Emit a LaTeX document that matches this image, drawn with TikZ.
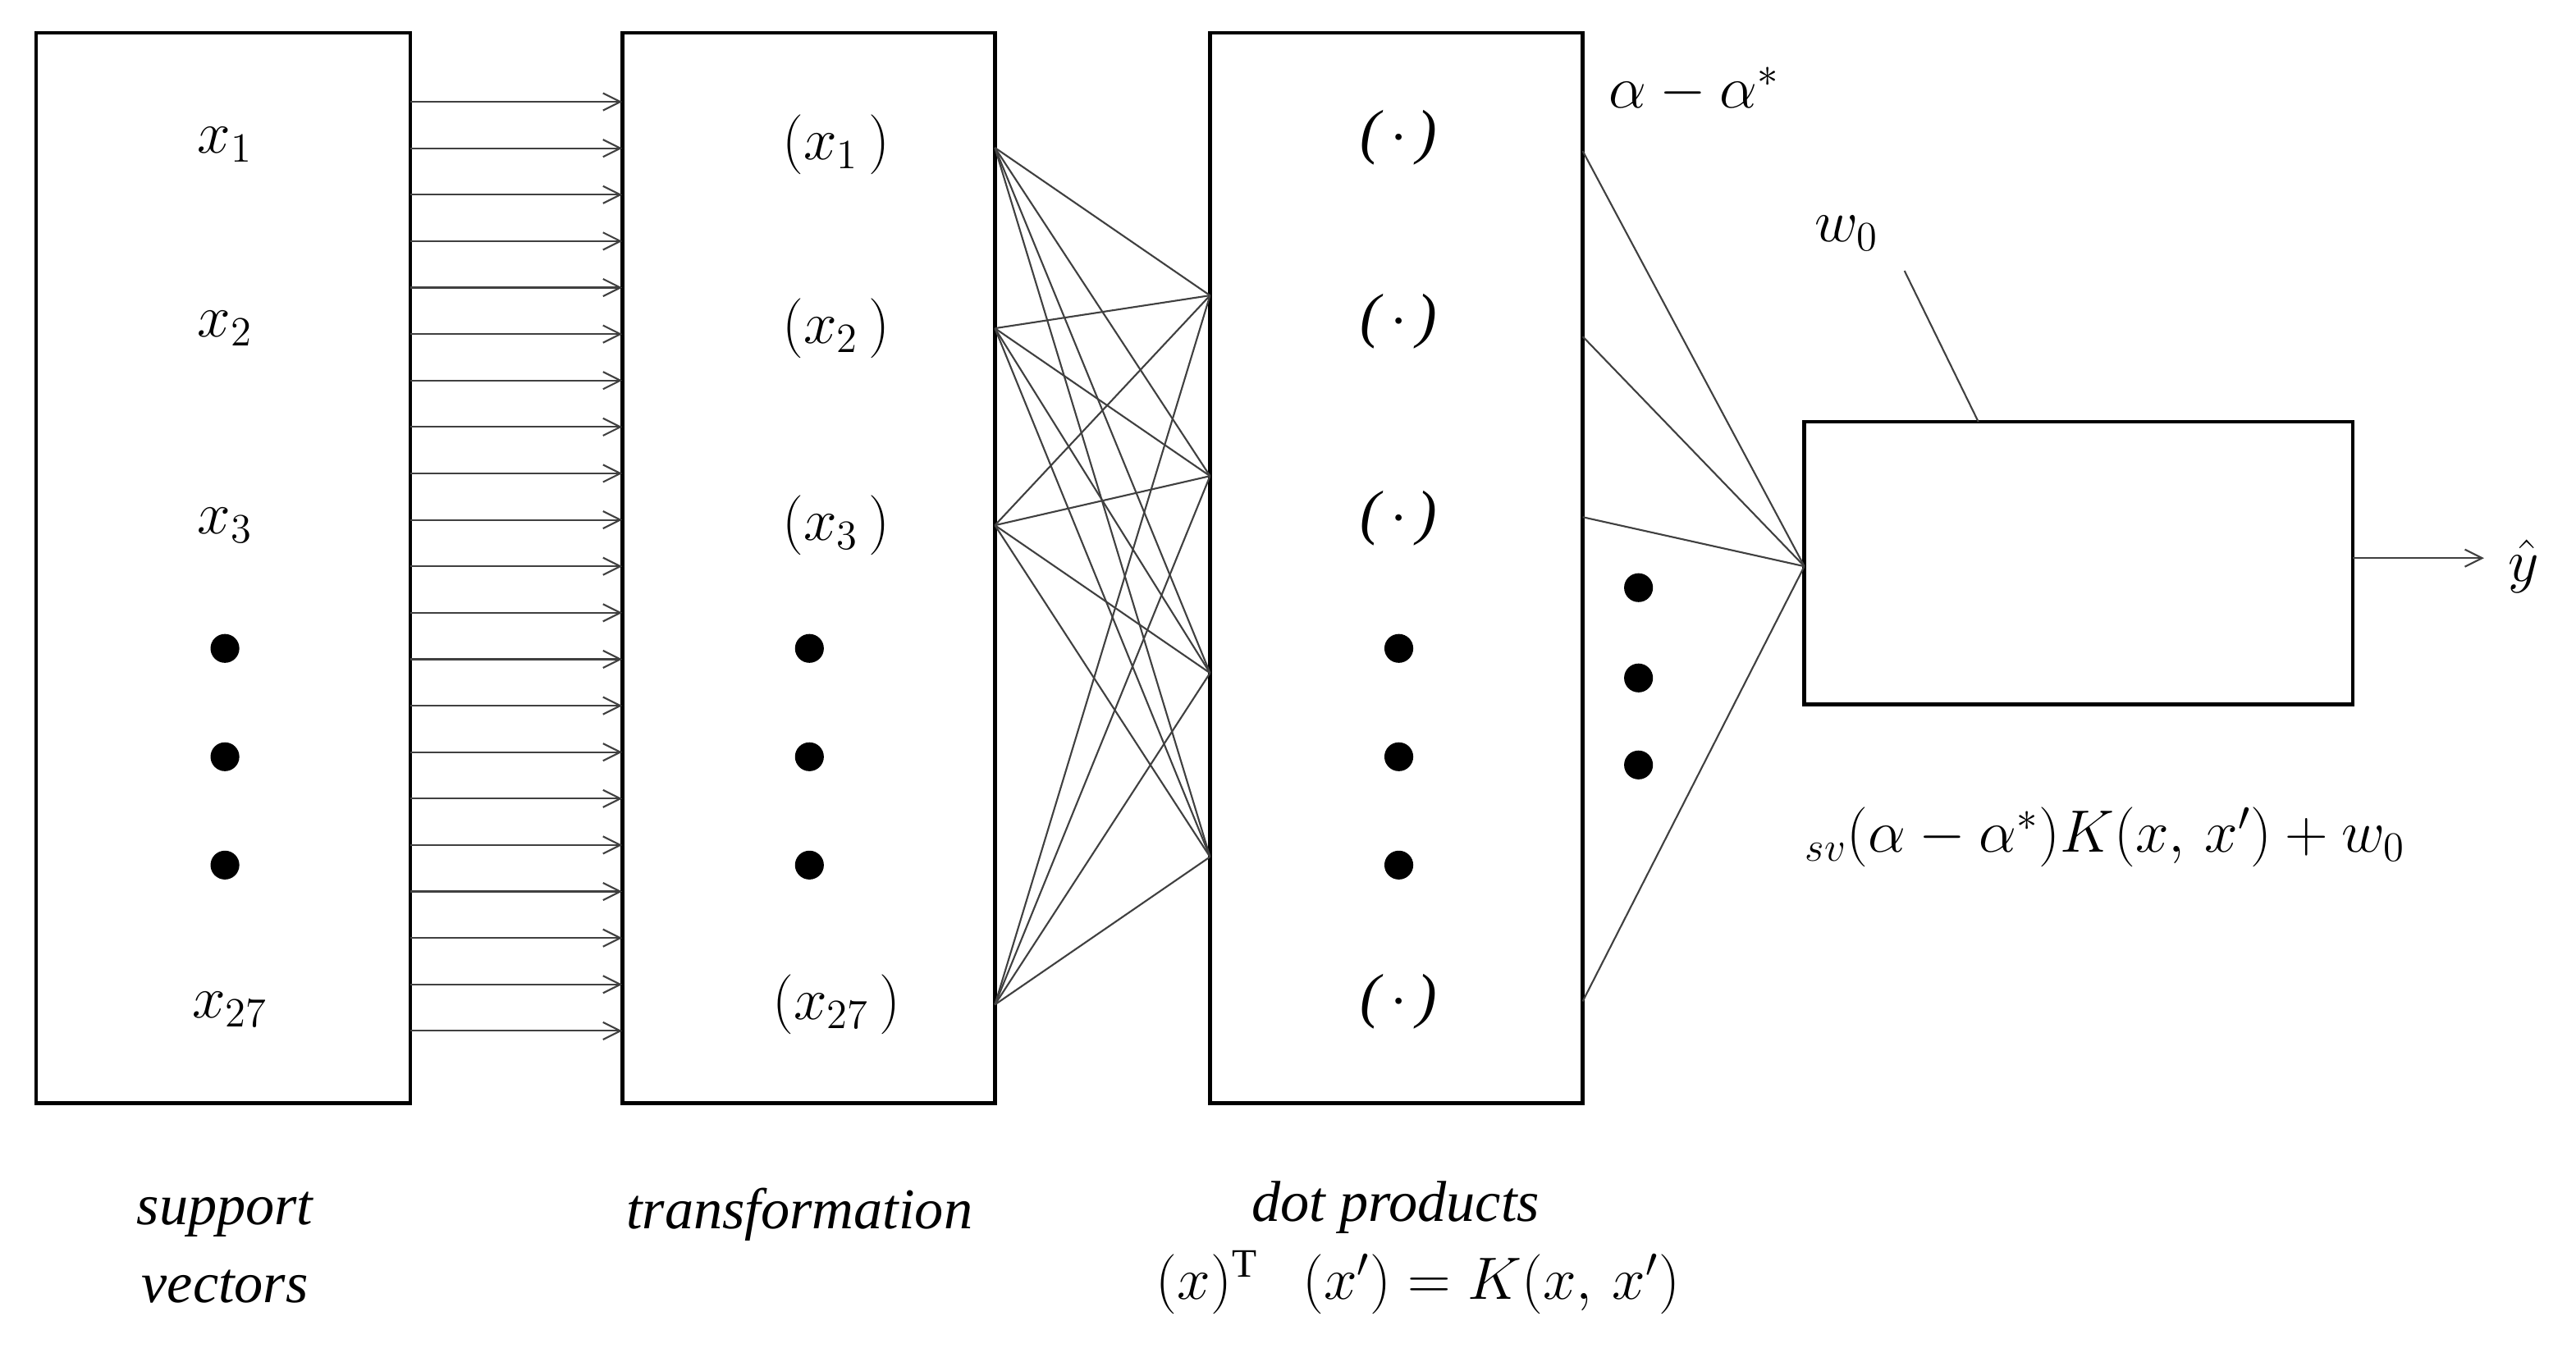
\documentclass[tikz,border=0pt]{standalone}
\usepackage{fontspec}
\setmainfont{Liberation Serif}
\usetikzlibrary{arrows.meta}
\newcommand{\Ph}{\mathit{\Phi}}
\newcommand{\Sg}{\mathit{\Sigma}}
\begin{document}
\begin{tikzpicture}[x=0.02cm,y=-0.02cm,
  box/.style={draw,line width=1.3pt},
  lbl/.style={font=\fontsize{21}{25}\selectfont\itshape},
  captxt/.style={font=\fontsize{20}{25}\selectfont\itshape,align=center},
  dot/.style={circle,fill,inner sep=0pt,minimum size=10pt},
  thin/.style={line width=0.6pt,draw=black!75},
  arr/.style={thin,-{Straight Barb[length=6pt,width=6pt]}}]
\useasboundingbox (0,0) rectangle (1569,824);
\draw[box] (22,20) rectangle (250,672);
\draw[box] (379,20) rectangle (606,672);
\draw[box] (737,20) rectangle (964,672);
\draw[box] (1099,257) rectangle (1433,429);
% arrows
\foreach \i in {0,...,20}{
  \coordinate (s\i) at (250,{62+\i*28.3});
  \coordinate (t\i) at (379,{62+\i*28.3});
  \draw[arr] (s\i) -- (t\i);}
% labels
\foreach \y/\n in {88/1,200/2,320/3}{
  \node[lbl] (x\n) at (137,\y) {$x_{\n}$};
  \node[lbl] (p\n) at (495,\y) {$\Ph(x_{\n}\,)$};
  \node[lbl] (d\n) at (852,\y-4) {(\,$\cdot$\,)};}
\node[lbl] (x27) at (140,615) {$x_{27}$};
\node[lbl] (p27) at (495,612) {$\Ph(x_{27}\,)$};
\node[lbl] (d27) at (852,610) {(\,$\cdot$\,)};
\foreach \y/\k in {395/a,461/b,527/c}{
  \node[dot] (da\k) at (137,\y) {};
  \node[dot] (db\k) at (493,\y) {};
  \node[dot] (dc\k) at (852,\y) {};}
\foreach \y/\k in {358/a,413/b,466/c}{\node[dot] (dd\k) at (998,\y) {};}
% fan 2->3
\foreach \a/\y in {1/90,2/200,3/320,4/612}{\coordinate (o\a) at (606,\y);}
\foreach \b/\y in {1/180,2/290,3/410,4/522}{\coordinate (i\b) at (737,\y);}
\foreach \a in {1,...,4}{\foreach \b in {1,...,4}{\draw[thin] (o\a) -- (i\b);}}
% fan 3->sum
\coordinate (sumin) at (1099,345);
\foreach \k/\y in {1/92,2/205,3/315,4/610}{\coordinate (r\k) at (964,\y); \draw[thin] (r\k) -- (sumin);}
\node[lbl] (alpha) at (1032,55) {$\alpha-\alpha^{*}$};
\node[lbl] (w0) at (1125,142) {$w_0$};
\coordinate (wa) at (1160,165); \coordinate (wb) at (1205,257);
\draw[thin] (wa) -- (wb);
\node[lbl] (sig) at (1265,348) {$\Sg$};
\coordinate (so) at (1433,340); \coordinate (se) at (1513,340);
\draw[arr] (so) -- (se);
\node[lbl] (yh) at (1537,345) {$\hat{y}$};
\node[lbl] (form) at (1268,510) {$\Sg_{sv}(\alpha-\alpha^{*})K(x,\,x')+w_0$};
\node[captxt] (c1) at (137,760) {support\\[2pt]vectors};
\node[captxt] (c2) at (487,760) {transformation\\[2pt]$\Ph$};
\node[captxt] (c3) at (850,760) {dot products\\[2pt]$\Ph(x)^{\mathrm{T}}\Ph(x')=K(x,\,x')$};
\end{tikzpicture}
\end{document}
